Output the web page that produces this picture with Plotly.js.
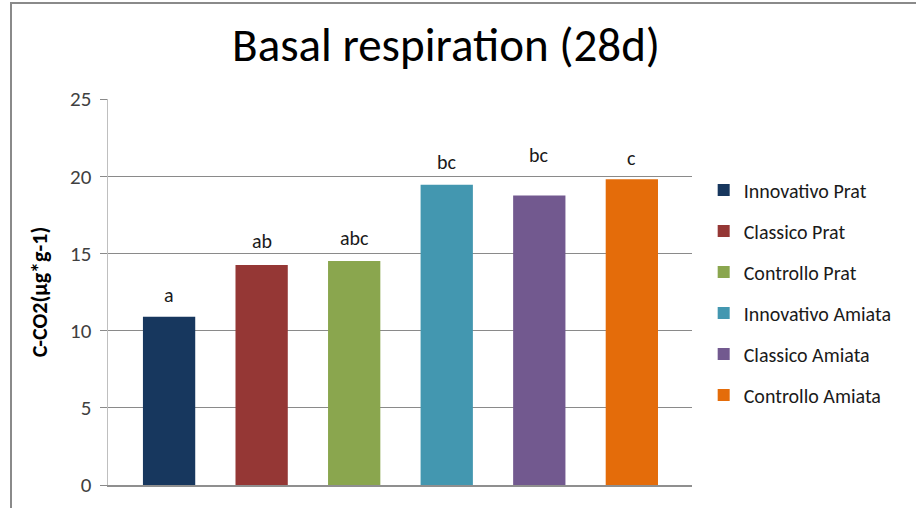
<!DOCTYPE html>
<html>
<head>
<meta charset="utf-8">
<script src="https://cdn.plot.ly/plotly-3.0.1.min.js"></script>
<style>
html,body{margin:0;padding:0;background:#fff;}
#wrap{position:relative;width:916px;height:508px;overflow:hidden;}
#chart{position:absolute;left:0;top:0;width:916px;height:508px;}
#frame{position:absolute;left:10px;top:2px;width:920px;height:520px;border-left:2px solid #8a8a8a;border-top:2px solid #8a8a8a;pointer-events:none;}
</style>
</head>
<body>
<div id="wrap"><div id="chart"></div><div id="frame"></div></div>
<script>
var categories = ["Innovativo Prat","Classico Prat","Controllo Prat","Innovativo Amiata","Classico Amiata","Controllo Amiata"];
var values = [10.9, 14.25, 14.5, 19.45, 18.75, 19.8];
var letters = ["a","ab","abc","bc","bc","c"];
var letterY = [12.3, 15.8, 16.0, 20.9, 21.4, 21.2];
var colors = ["#17375E","#953735","#8AA64E","#4397B0","#72598F","#E46C0A"];
var yTicks = [0,5,10,15,20,25];

var FONT = "Carlito, Lato, 'Liberation Sans', sans-serif";

var traces = categories.map(function(c,i){
  return {
    type:"bar", name:c, x:[c], y:[values[i]],
    marker:{color:colors[i]}, width:0.565,
    legendgroup:"g"+i, hoverinfo:"skip"
  };
});

var annotations = categories.map(function(c,i){
  return {x:c, y:letterY[i], xref:"x", yref:"y", text:letters[i], showarrow:false,
    yanchor:"middle", font:{family:FONT, size:20, color:"#1a1a1a"}};
});

var layout = {
  width:916, height:508,
  margin:{l:108, r:224, t:99, b:23, pad:0},
  paper_bgcolor:"rgba(0,0,0,0)", plot_bgcolor:"#fff",
  title:{text:"Basal respiration (28d)", font:{family:FONT, size:47, color:"#000"},
    x:0.487, xanchor:"center", y:0.913, yanchor:"middle"},
  barmode:"overlay",
  showlegend:true,
  legend:{x:1.02, xanchor:"left", y:0.815, yanchor:"top", font:{family:FONT, size:20, color:"#1a1a1a"},
    tracegroupgap:12, itemwidth:30, bgcolor:"rgba(0,0,0,0)"},
  xaxis:{type:"category", categoryarray:categories, range:[-0.66,5.65], showticklabels:false,
    ticks:"", showgrid:false, showline:true, linecolor:"#8f8f8f", linewidth:1.5, zeroline:false, fixedrange:true},
  yaxis:{range:[0,25], tickvals:yTicks, ticktext:yTicks.map(String), showgrid:true, gridcolor:"#8a8a8a", gridwidth:1,
    showline:true, linecolor:"#bfbfbf", linewidth:1.5, ticks:"outside", ticklen:7, tickcolor:"#8a8a8a",
    ticklabelstandoff:4,
    tickfont:{family:FONT, size:21, color:"#404040"}, zeroline:false,
    title:{text:"<b>C-CO2(μg*g-1)</b>", font:{family:FONT, size:22, color:"#000"}, standoff:16}},
  annotations:annotations
};

Plotly.newPlot("chart", traces, layout, {displayModeBar:false, staticPlot:true});
</script>
</body>
</html>
